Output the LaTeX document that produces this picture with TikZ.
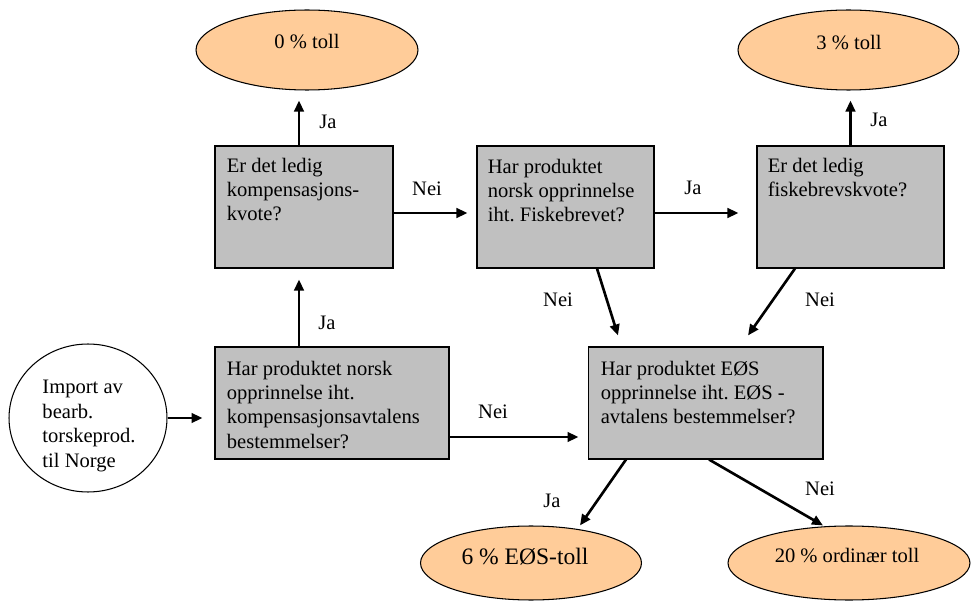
\documentclass[tikz,border=0pt]{standalone}
\usepackage{fontspec}
\setmainfont{Liberation Serif}
\usepackage{tikz}
\usetikzlibrary{arrows.meta,shapes.geometric,calc}
\definecolor{boxgray}{HTML}{C0C0C0}
\definecolor{peach}{HTML}{FFCC99}
\newcommand{\txt}{\fontsize{11.7}{13.9}\selectfont}
\frenchspacing

\begin{document}
\begin{tikzpicture}[x=0.02cm, y=-0.02cm]
    \tikzstyle{box}=[draw, fill=boxgray, line width=0.6pt, inner sep=0pt, minimum height=2.44cm]
    \tikzstyle{boxtext}=[anchor=north west, inner sep=0pt, align=left, font=\txt]
    \tikzstyle{result}=[ellipse, draw, fill=peach, line width=0.6pt, inner sep=0pt]
    \tikzstyle{label}=[inner sep=0pt, font=\txt]
    %\tikzstyle{arrow}=[->, thick]
    \tikzstyle{arrow}=[-{Triangle[length=0.22cm, width=0.19cm]}, line width=1.5pt]
    \useasboundingbox (0,0) rectangle (971,601);

    % results
    \node [style=result, minimum width=4.44cm, minimum height=1.6cm] (toll0) at (307, 50) {};
    \node [style=result, minimum width=4.42cm, minimum height=1.6cm] (toll3) at (848.5, 50) {};
    \node [style=result, minimum width=4.42cm, minimum height=1.48cm] (toll6) at (531, 563) {};
    \node [style=result, minimum width=4.84cm, minimum height=1.48cm] (toll20) at (849, 563) {};
    \node [style=label] (toll0t) at (307, 42) {0 \% toll};
    \node [style=label] (toll3t) at (849, 43) {3 \% toll};
    \node [style=label, font=\fontsize{13.4}{16}\selectfont] (toll6t) at (525, 557) {6 \% EØS-toll};
    \node [style=label] (toll20t) at (847, 556) {20 \% ordinær toll};

    % start
    \node [ellipse, draw, line width=0.6pt, minimum width=3.16cm, minimum height=2.96cm] (import) at (88, 418) {};
    \node [style=boxtext, anchor=center] (importt) at (89, 426) {Import av\\bearb.\\torskeprod.\\til Norge};

    % questions
    \node [style=box, minimum width=3.56cm] (b1) at (304, 207) {};
    \node [style=box, minimum width=3.54cm] (b2) at (565.5, 207) {};
    \node [style=box, minimum width=3.74cm] (b3) at (850.5, 207) {};
    \node [style=box, minimum width=4.68cm, minimum height=2.24cm] (b4) at (332, 403) {};
    \node [style=box, minimum width=4.70cm, minimum height=2.24cm] (b5) at (705.5, 403) {};
    \node [style=boxtext] (b1t) at ($(b1.north west)+(12,12)$) {Er det ledig\\kompensasjons-\\kvote?};
    \node [style=boxtext] (b2t) at ($(b2.north west)+(11,13)$) {Har produktet\\norsk opprinnelse\\iht. Fiskebrevet?};
    \node [style=boxtext] (b3t) at ($(b3.north west)+(11,12)$) {Er det ledig\\fiskebrevskvote?};
    \node [style=boxtext] (b4t) at ($(b4.north west)+(12,14)$) {Har produktet norsk\\opprinnelse iht.\\kompensasjonsavtalens\\bestemmelser?};
    \node [style=boxtext] (b5t) at ($(b5.north west)+(13,14)$) {Har produktet EØS\\opprinnelse iht. EØS -\\avtalens bestemmelser?};

    % connectors
    \draw [style=arrow] (import.east) to ($(import.east -| b4.west)+(-12,0)$);
    \draw [style=arrow] ($(b4.north)+(-33,0)$) to ($(b1.south)+(-5,11)$);
    \draw [style=arrow] ($(b1.north)+(-5,0)$) to ($(toll0.south)+(-8,10)$);
    \draw [style=arrow] ($(b1.east)+(0,6)$) to ($(b2.west)+(-9,6)$);
    \draw [style=arrow] ($(b2.east)+(0,6)$) to ($(b3.west)+(-18,6)$);
    \draw [style=arrow] ($(b3.north)+(0,0)$) to ($(toll3.south)+(2,10)$);
    \draw [style=arrow] ($(b4.east)+(0,34)$) to ($(b5.west)+(-9,34)$);
    \draw [style=arrow] ($(b2.south)+(31.5,0)$) to ($(b5.north)+(-87.5,-11)$);
    \draw [style=arrow] ($(b3.south)+(-55.5,0)$) to ($(b5.north)+(42.5,-11)$);
    \draw [style=arrow] ($(b5.south)+(-79.5,0)$) to ($(toll6.north)+(49,0)$);
    \draw [style=arrow] ($(b5.south)+(3.5,0)$) to ($(toll20.north)+(-26,0)$);

    % answers
    \node [style=label] (ja1) at (328, 122) {Ja};
    \node [style=label] (nei1) at (427, 189) {Nei};
    \node [style=label] (ja2) at (693, 188) {Ja};
    \node [style=label] (ja3) at (879, 120) {Ja};
    \node [style=label] (ja4) at (327, 323) {Ja};
    \node [style=label] (nei2) at (493, 412) {Nei};
    \node [style=label] (nei3) at (558, 300) {Nei};
    \node [style=label] (nei4) at (820, 300) {Nei};
    \node [style=label] (ja5) at (552, 501) {Ja};
    \node [style=label] (nei5) at (820, 489) {Nei};
\end{tikzpicture}
\end{document}
